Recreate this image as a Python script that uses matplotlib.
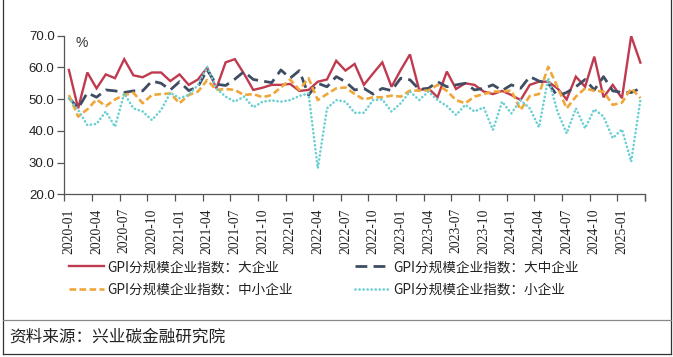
import matplotlib
matplotlib.use("Agg")
import matplotlib.pyplot as plt
from matplotlib.lines import Line2D
import numpy as np

plt.rcParams['font.family'] = ['Noto Sans CJK SC', 'DejaVu Sans']
plt.rcParams['lines.scale_dashes'] = False

# ---------------- data ----------------
months = [f"{y}-{m:02d}" for y in range(2020, 2026) for m in range(1, 13)][:63]

large = [59.2, 47.1, 58.4, 53.4, 57.8, 56.6, 62.6, 57.5, 56.9, 58.4, 58.4, 55.7,
         57.8, 54.5, 56.2, 59.9, 53.4, 61.6, 62.6, 58.0, 52.9, 53.6, 54.5, 54.5,
         54.8, 52.6, 52.9, 55.5, 56.2, 62.1, 59.0, 61.1, 54.5, 58.1, 61.6, 53.9,
         59.2, 64.1, 52.9, 53.4, 50.6, 58.7, 53.2, 55.0, 54.5, 52.4, 51.6, 52.6,
         51.3, 49.7, 54.5, 55.5, 55.5, 53.4, 49.9, 57.1, 53.9, 63.4, 50.6, 54.5,
         50.3, 69.9, 61.5]

large_medium = [50.5, 47.1, 52.0, 50.6, 52.9, 52.6, 52.1, 52.6, 52.6, 55.7, 55.0, 52.9,
                55.5, 52.7, 53.9, 59.2, 54.7, 54.3, 56.3, 58.7, 56.2, 55.7, 55.2, 59.2,
                56.6, 59.0, 51.3, 55.0, 53.9, 57.1, 55.5, 52.9, 53.4, 51.6, 53.4, 52.7,
                56.6, 56.1, 53.1, 53.4, 55.5, 53.9, 54.5, 55.0, 52.9, 53.4, 54.5, 52.7,
                54.5, 53.4, 57.1, 55.7, 55.0, 51.0, 52.1, 53.9, 56.2, 52.9, 57.1, 52.6,
                52.1, 52.1, 53.4]

medium_small = [51.3, 44.5, 46.8, 49.9, 47.8, 49.9, 51.3, 52.0, 48.7, 51.3, 51.6, 51.8,
                48.7, 51.3, 52.4, 56.0, 52.9, 53.2, 52.9, 51.3, 51.6, 50.6, 51.3, 53.7,
                56.2, 52.9, 56.6, 49.7, 51.6, 53.4, 53.7, 51.6, 49.9, 50.6, 50.6, 51.1,
                50.8, 52.7, 52.7, 52.7, 54.5, 52.6, 49.7, 48.7, 50.8, 51.6, 52.4, 52.4,
                52.7, 46.6, 51.0, 51.6, 60.2, 53.9, 47.1, 50.8, 53.4, 52.6, 52.4, 48.2,
                48.9, 53.4, 50.3]

small = [50.3, 46.6, 41.8, 42.2, 46.1, 41.3, 51.8, 47.1, 46.1, 43.4, 46.6, 52.0,
         50.3, 51.3, 54.5, 60.2, 53.4, 50.8, 49.2, 50.8, 47.4, 49.2, 49.6, 49.2,
         49.7, 51.0, 51.8, 28.2, 47.1, 49.7, 49.2, 45.7, 45.7, 49.7, 49.9, 46.1,
         48.7, 52.4, 49.7, 52.4, 49.7, 47.8, 45.0, 48.2, 46.1, 47.4, 40.3, 49.2,
         45.5, 49.7, 47.1, 41.1, 56.6, 46.1, 39.2, 47.1, 40.8, 46.8, 44.5, 37.7,
         40.5, 30.3, 49.7]

series_names = ["GPI分规模企业指数：大企业", "GPI分规模企业指数：大中企业",
                "GPI分规模企业指数：中小企业", "GPI分规模企业指数：小企业"]
y_ticks = [20, 30, 40, 50, 60, 70]

# ---------------- figure ----------------
W, H = 673, 357
fig = plt.figure(figsize=(W / 100, H / 100), dpi=100)
ax = fig.add_axes([64.3 / W, 1 - 194.3 / H, (645 - 64.3) / W, (194.3 - 35.7) / H])

x = np.arange(len(months))
c_red, c_navy, c_orange, c_cyan = '#BF3A4E', '#3F4D64', '#EFA73A', '#6ACFD3'

l1, = ax.plot(x, large, color=c_red, lw=1.7, solid_joinstyle='miter')
l2, = ax.plot(x, large_medium, color=c_navy, lw=2.0, dashes=(8.5, 4.5))
l3, = ax.plot(x, medium_small, color=c_orange, lw=1.9, dashes=(4.8, 2.4))
l4, = ax.plot(x, small, color=c_cyan, lw=1.9, dashes=(0.1, 2.8), dash_capstyle='round')

ax.set_xlim(-0.5, len(months) - 0.5)
ax.set_ylim(20, 70)
ax.set_yticks(y_ticks)
ax.set_yticklabels([f"{v:.1f}" for v in y_ticks], fontfamily='Liberation Sans', fontsize=9.5)

# major ticks at category boundaries every 3 months, labels at category centres
ax.set_xticks(np.arange(-0.5, len(months), 3).tolist() + [len(months) - 0.5])
ax.set_xticklabels([])
lab_pos = np.arange(0, len(months), 3)
ax.set_xticks(lab_pos, minor=True)
ax.set_xticklabels([months[i] for i in lab_pos], minor=True, rotation=90,
                   fontfamily='Liberation Serif', fontsize=9.8)
ax.tick_params(axis='x', which='major', direction='out', length=5, color='#555555', width=0.9)
ax.tick_params(axis='x', which='minor', length=0, pad=10, colors='#222222')
ax.tick_params(axis='y', direction='out', length=5, color='#555555', width=0.9, pad=2,
               colors='#222222')

for s in ['top', 'right']:
    ax.spines[s].set_visible(False)
for s in ['left', 'bottom']:
    ax.spines[s].set_color('#555555')
    ax.spines[s].set_linewidth(0.9)

ax.text(0.02, 0.955, "%", transform=ax.transAxes, fontsize=10, color='#333333',
        fontfamily='Liberation Sans', va='center', ha='left')

# legend (column-major order)
leg = fig.legend([l1, l3, l2, l4], [series_names[0], series_names[2], series_names[1], series_names[3]],
                 ncol=2, loc='upper left', bbox_to_anchor=(69 / W, 1 - 260 / H),
                 frameon=False, fontsize=9.8, handlelength=2.6, handletextpad=0.2,
                 columnspacing=4.6, labelspacing=0.62, borderaxespad=0, borderpad=0)
for t in leg.get_texts():
    t.set_color('#222222')

# outer frame and divider
frame_kw = dict(color='#333333', lw=0.9, transform=fig.transFigure)
fig.add_artist(Line2D([2.5 / W, 2.5 / W], [1 - 353.5 / H, 1.0], **frame_kw))
fig.add_artist(Line2D([670.5 / W, 670.5 / W], [1 - 353.5 / H, 1.0], **frame_kw))
fig.add_artist(Line2D([2.5 / W, 670.5 / W], [1 - 353.5 / H, 1 - 353.5 / H], **frame_kw))
fig.add_artist(Line2D([2.5 / W, 670.5 / W], [1 - 319.5 / H, 1 - 319.5 / H], color='#888888',
                      lw=0.9, transform=fig.transFigure))

fig.text(9 / W, 1 - 337 / H, "资料来源：兴业碳金融研究院", fontsize=12, color='#222222',
         va='center', ha='left')

fig.savefig("out.png", dpi=100)
